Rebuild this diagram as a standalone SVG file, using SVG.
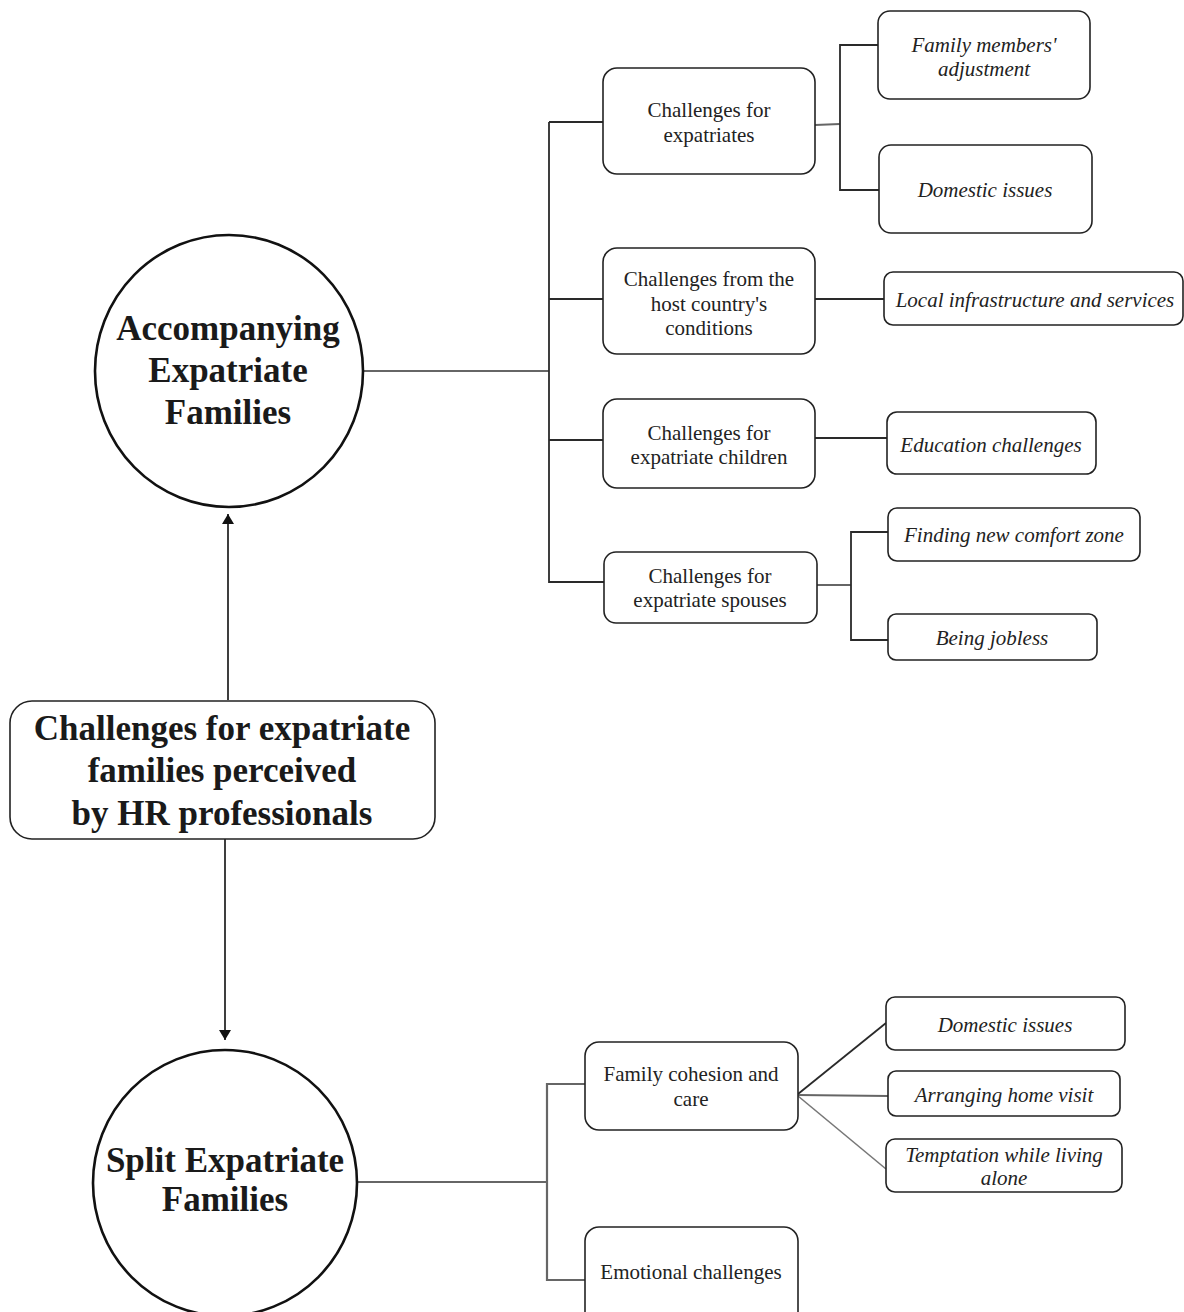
<svg xmlns="http://www.w3.org/2000/svg" width="1184" height="1312" viewBox="0 0 1184 1312">
  <style>
    .bg { fill: #ffffff; }
    .box { fill: #ffffff; stroke: #222222; stroke-width: 1.6; }
    .circle { fill: #ffffff; stroke: #111111; stroke-width: 2.6; }
    .title { font-family: "Liberation Serif", "Times New Roman", serif; font-weight: bold; font-size: 35px; fill: #1a1a1a; text-anchor: middle; }
    .lbl { font-family: "Liberation Serif", "Times New Roman", serif; font-size: 21px; fill: #222222; text-anchor: middle; }
    .it { font-family: "Liberation Serif", "Times New Roman", serif; font-style: italic; font-size: 21px; fill: #222222; text-anchor: middle; }
    .ln { fill: none; stroke: #2a2a2a; stroke-width: 1.8; }
    .ln-g { fill: none; stroke: #666666; stroke-width: 2.2; }
    .ln-lt { fill: none; stroke: #777777; stroke-width: 1.6; }
  </style>
  <defs>
    <marker id="arrow" viewBox="0 0 10 12" refX="10" refY="6" markerWidth="10" markerHeight="12" markerUnits="userSpaceOnUse" orient="auto">
      <path d="M0,0 L10,6 L0,12 Z" fill="#111111"/>
    </marker>
  </defs>
  <rect class="bg" x="0" y="0" width="1184" height="1312"/>

  <!-- connectors -->
  <g id="connectors">
    <!-- root to family types -->
    <line class="ln" x1="228" y1="700" x2="228" y2="514" marker-end="url(#arrow)"/>
    <line class="ln" x1="225" y1="839" x2="225" y2="1040" marker-end="url(#arrow)"/>
    <!-- accompanying families tree -->
    <line class="ln-g" x1="364" y1="371" x2="549" y2="371"/>
    <line class="ln" x1="549" y1="122" x2="549" y2="583"/>
    <line class="ln" x1="549" y1="122" x2="603" y2="122"/>
    <line class="ln" x1="549" y1="299" x2="603" y2="299"/>
    <line class="ln" x1="549" y1="440" x2="603" y2="440"/>
    <line class="ln" x1="549" y1="582" x2="604" y2="582"/>
    <!-- expatriates sub-branches -->
    <polyline class="ln-g" points="815,125 840,124"/>
    <polyline class="ln" points="878,45 840,45 840,190 879,190"/>
    <!-- host country -->
    <line class="ln" x1="815" y1="299" x2="884" y2="299"/>
    <!-- children -->
    <line class="ln" x1="815" y1="438" x2="887" y2="438"/>
    <!-- spouses -->
    <line class="ln-g" x1="817" y1="585" x2="851" y2="585"/>
    <polyline class="ln" points="888,532 851,532 851,640 888,640"/>
    <!-- split families tree -->
    <line class="ln-g" x1="357" y1="1182" x2="547" y2="1182"/>
    <polyline class="ln-g" points="585,1084 547,1084 547,1280 585,1280"/>
    <line class="ln" x1="798" y1="1094" x2="886" y2="1023"/>
    <line class="ln-g" x1="798" y1="1095" x2="888" y2="1096"/>
    <line class="ln-lt" x1="798" y1="1096" x2="886" y2="1169"/>
  </g>

  <!-- root -->
  <g id="root">
    <rect class="box" x="10" y="701" width="425" height="138" rx="22"/>
    <text class="title" x="222" y="740">Challenges for expatriate</text>
    <text class="title" x="222" y="782">families perceived</text>
    <text class="title" x="222" y="825">by HR professionals</text>
  </g>

  <!-- family types -->
  <g id="accompanying">
    <ellipse class="circle" cx="229" cy="371" rx="134" ry="136"/>
    <text class="title" x="228" y="340">Accompanying</text>
    <text class="title" x="228" y="382">Expatriate</text>
    <text class="title" x="228" y="424">Families</text>
  </g>
  <g id="split">
    <ellipse class="circle" cx="225" cy="1183" rx="132" ry="133"/>
    <text class="title" x="225" y="1172">Split Expatriate</text>
    <text class="title" x="225" y="1211">Families</text>
  </g>

  <!-- accompanying families: challenge groups -->
  <g id="expatriates">
    <rect class="box" x="603" y="68" width="212" height="106" rx="14"/>
    <text class="lbl" x="709" y="117">Challenges for</text>
    <text class="lbl" x="709" y="142">expatriates</text>
  </g>
  <g id="host-country">
    <rect class="box" x="603" y="248" width="212" height="106" rx="14"/>
    <text class="lbl" x="709" y="286">Challenges from the</text>
    <text class="lbl" x="709" y="311">host country's</text>
    <text class="lbl" x="709" y="335">conditions</text>
  </g>
  <g id="children">
    <rect class="box" x="603" y="399" width="212" height="89" rx="14"/>
    <text class="lbl" x="709" y="440">Challenges for</text>
    <text class="lbl" x="709" y="464">expatriate children</text>
  </g>
  <g id="spouses">
    <rect class="box" x="604" y="552" width="213" height="71" rx="12"/>
    <text class="lbl" x="710" y="583">Challenges for</text>
    <text class="lbl" x="710" y="607">expatriate spouses</text>
  </g>

  <!-- accompanying families: specific issues -->
  <g id="adjustment">
    <rect class="box" x="878" y="11" width="212" height="88" rx="12"/>
    <text class="it" x="984" y="52">Family members'</text>
    <text class="it" x="984" y="76">adjustment</text>
  </g>
  <g id="domestic-1">
    <rect class="box" x="879" y="145" width="213" height="88" rx="12"/>
    <text class="it" x="985" y="197">Domestic issues</text>
  </g>
  <g id="infrastructure">
    <rect class="box" x="884" y="272" width="299" height="53" rx="9"/>
    <text class="it" x="1035" y="307">Local infrastructure and services</text>
  </g>
  <g id="education">
    <rect class="box" x="887" y="412" width="209" height="62" rx="10"/>
    <text class="it" x="991" y="452">Education challenges</text>
  </g>
  <g id="comfort-zone">
    <rect class="box" x="888" y="508" width="252" height="53" rx="9"/>
    <text class="it" x="1014" y="542">Finding new comfort zone</text>
  </g>
  <g id="jobless">
    <rect class="box" x="888" y="614" width="209" height="46" rx="8"/>
    <text class="it" x="992" y="645">Being jobless</text>
  </g>

  <!-- split families -->
  <g id="cohesion">
    <rect class="box" x="585" y="1042" width="213" height="88" rx="14"/>
    <text class="lbl" x="691" y="1081">Family cohesion and</text>
    <text class="lbl" x="691" y="1106">care</text>
  </g>
  <g id="emotional">
    <rect class="box" x="585" y="1227" width="213" height="100" rx="14"/>
    <text class="lbl" x="691" y="1279">Emotional challenges</text>
  </g>
  <g id="domestic-2">
    <rect class="box" x="886" y="997" width="239" height="53" rx="9"/>
    <text class="it" x="1005" y="1032">Domestic issues</text>
  </g>
  <g id="home-visit">
    <rect class="box" x="888" y="1071" width="232" height="45" rx="8"/>
    <text class="it" x="1004" y="1102">Arranging home visit</text>
  </g>
  <g id="temptation">
    <rect class="box" x="886" y="1139" width="236" height="53" rx="9"/>
    <text class="it" x="1004" y="1162">Temptation while living</text>
    <text class="it" x="1004" y="1185">alone</text>
  </g>
</svg>
